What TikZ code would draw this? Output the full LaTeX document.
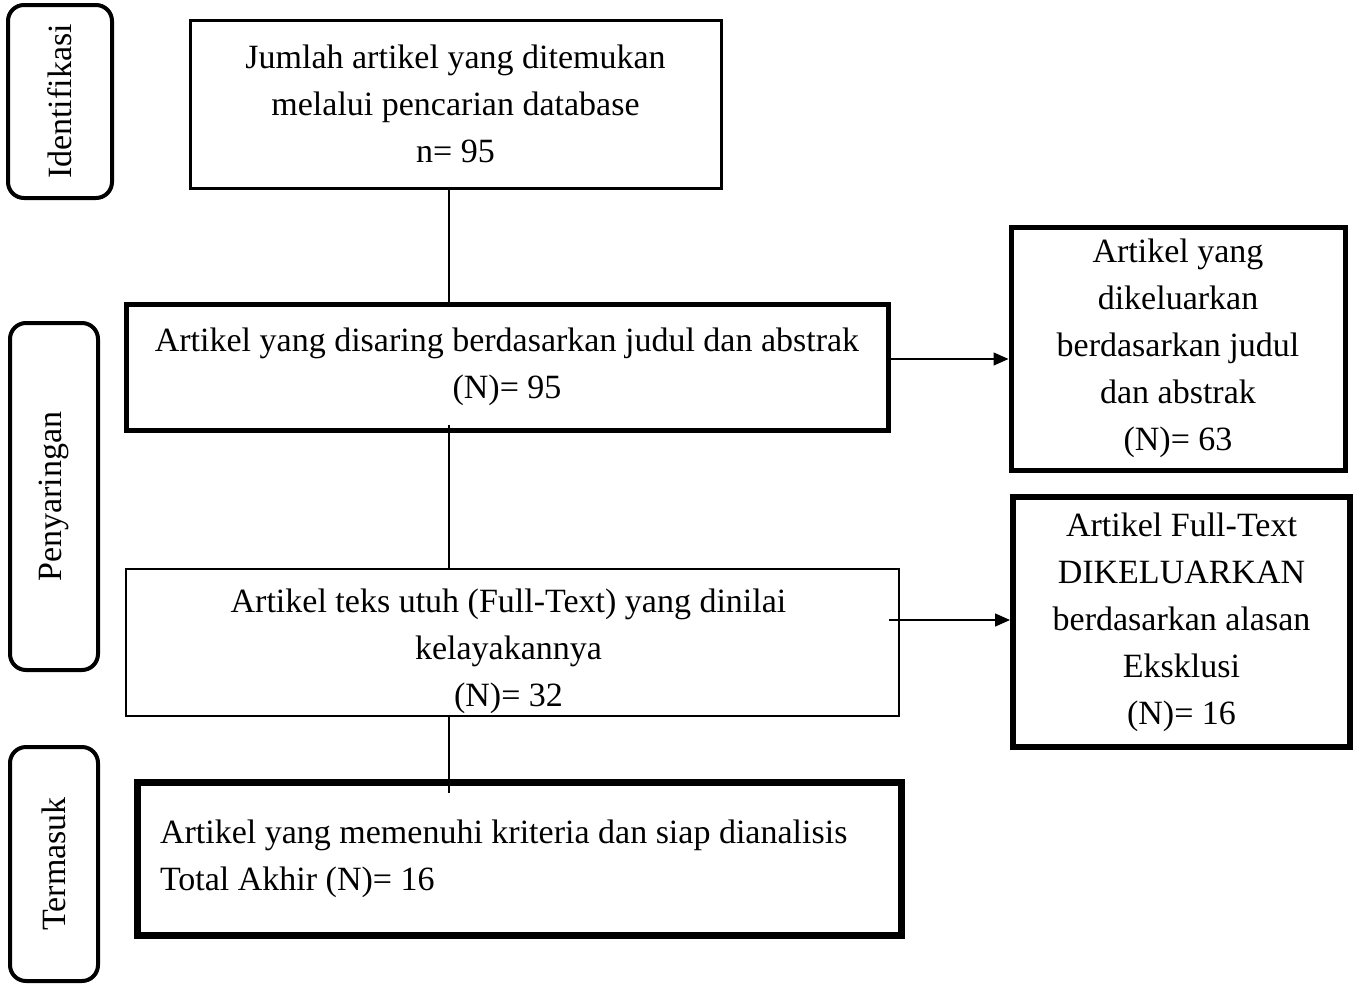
\documentclass[tikz,border=0pt]{standalone}
\usepackage{fontspec}
\setmainfont{Liberation Serif}
\usetikzlibrary{arrows.meta,calc}
\begin{document}
\begin{tikzpicture}[x=0.5pt,y=-0.5pt,
  txt/.style={font=\fontsize{17}{23.5}\selectfont},
  box/.style={draw, rectangle, inner sep=0pt, align=center, txt},
  stage/.style={draw, rounded corners=8pt, line width=2pt, inner sep=0pt, rotate=90, txt},
  conn/.style={line width=0.7pt},
  arr/.style={line width=0.7pt, -{Triangle[length=7.5pt,width=6.5pt]}}]
\useasboundingbox (0,0) rectangle (1354,985);

\node[stage, minimum width=96.5pt, minimum height=52pt] (s1) at (60,101.5) {Identifikasi};
\node[stage, minimum width=173.5pt, minimum height=44pt] (s2) at (54,496.5) {Penyaringan};
\node[stage, minimum width=117pt, minimum height=44pt] (s3) at (54,864) {Termasuk};

\node[box, line width=1.5pt, minimum width=265.5pt, minimum height=84pt] (b1) at (455.5,104)
  {Jumlah artikel yang ditemukan\\melalui pencarian database\\n= 95};
\node[box, line width=2.5pt, minimum width=381pt, minimum height=63pt] (b2) at (507,367)
  {Artikel yang disaring berdasarkan judul dan abstrak\\(N)= 95};
\node[box, line width=1pt, minimum width=386.5pt, minimum height=73.5pt] (b3) at (512.5,642.5) {};
\node[txt, align=center, inner sep=0pt] (b3t) at ($(b3.center)+(-4,9)$)
  {Artikel teks utuh (Full-Text) yang dinilai\\kelayakannya\\(N)= 32};
\node[box, line width=3.5pt, minimum width=382pt, minimum height=76.5pt, text width=359pt, align=flush left] (b4) at (519,858.5)
  {Artikel yang memenuhi kriteria dan siap dianalisis\\Total Akhir (N)= 16};
\node[box, line width=2.5pt, minimum width=167pt, minimum height=121.5pt] (r1) at (1178,348.5)
  {Artikel yang\\dikeluarkan\\berdasarkan judul\\dan abstrak\\(N)= 63};
\node[box, line width=3pt, minimum width=168.5pt, minimum height=125pt] (r2) at (1181.5,622)
  {Artikel Full-Text\\DIKELUARKAN\\berdasarkan alasan\\Eksklusi\\(N)= 16};

\coordinate (sp) at ([xshift=-3.25pt]b1.south);
\draw[conn] (sp) -- (sp |- b2.north);
\draw[conn] ($(sp |- b2.south)+(0,-8)$) -- (sp |- b3.north);
\draw[conn] (sp |- b3.south) -- ($(sp |- b4.north)+(0,14)$);

\draw[arr] ([yshift=4pt]b2.east) -- ([yshift=4pt]b2.east -| r1.west);
\draw[arr] ([xshift=-5.5pt,yshift=11.25pt]b3.east) -- ([yshift=11.25pt]b3.east -| r2.west);
\end{tikzpicture}
\end{document}
